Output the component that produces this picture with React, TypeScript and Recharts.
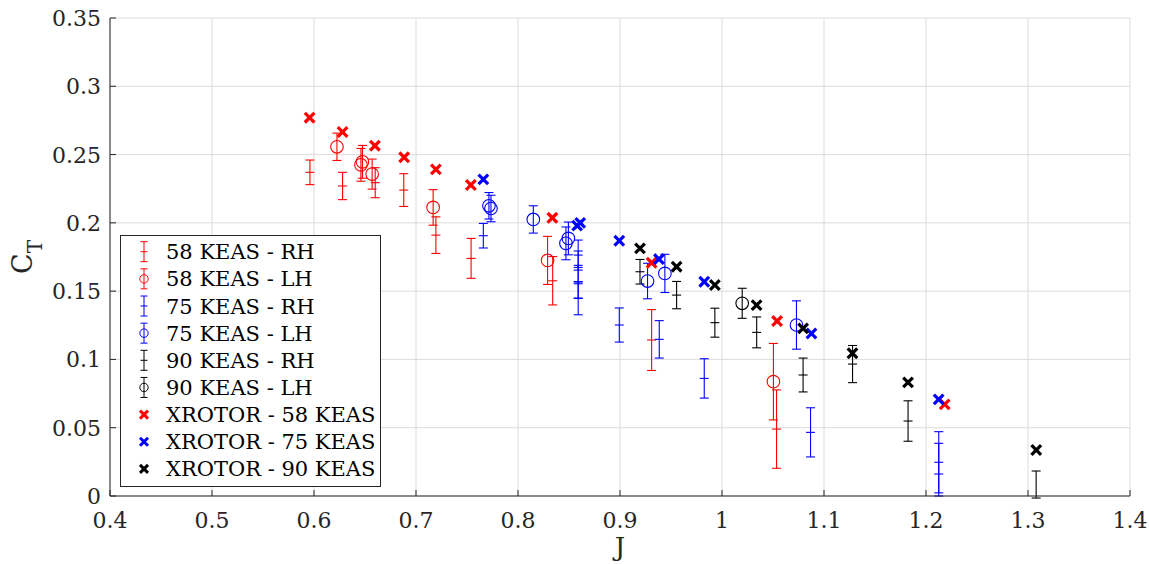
import React from 'react';
import { ScatterChart, Scatter, XAxis, YAxis, CartesianGrid, ErrorBar } from 'recharts';

const FONT = 'DejaVu Serif, Liberation Serif, serif';
const AXIS_COLOR = '#262626';

const xTicks = [0.4, 0.5, 0.6, 0.7, 0.8, 0.9, 1.0, 1.1, 1.2, 1.3, 1.4];
const xTickLabels = ['0.4', '0.5', '0.6', '0.7', '0.8', '0.9', '1', '1.1', '1.2', '1.3', '1.4'];
const yTicks = [0, 0.05, 0.1, 0.15, 0.2, 0.25, 0.3, 0.35];
const yTickLabels = ['0', '0.05', '0.1', '0.15', '0.2', '0.25', '0.3', '0.35'];

// 58 KEAS - RH
const j58RH = [0.596, 0.628, 0.66, 0.688, 0.7195, 0.754, 0.834, 0.931, 1.0535];
const ct58RH = [0.237, 0.227, 0.2294, 0.224, 0.191, 0.174, 0.1576, 0.1142, 0.049];
const err58RH = [0.009, 0.01, 0.011, 0.012, 0.0134, 0.0146, 0.0177, 0.0223, 0.0287];
// 58 KEAS - LH
const j58LH = [0.6225, 0.6475, 0.646, 0.657, 0.7168, 0.829, 1.0504];
const ct58LH = [0.2557, 0.2447, 0.2425, 0.2357, 0.2113, 0.1725, 0.0837];
const err58LH = [0.01, 0.012, 0.012, 0.011, 0.013, 0.0176, 0.028];
// 75 KEAS - RH
const j75RH = [0.766, 0.859, 0.859, 0.859, 0.859, 0.8993, 0.9385, 0.9826, 1.0868, 1.2125, 1.2125];
const ct75RH = [0.1906, 0.1764, 0.1674, 0.1569, 0.1447, 0.1252, 0.1147, 0.0861, 0.0466, 0.0247, 0.0161];
const err75RH = [0.009, 0.011, 0.012, 0.012, 0.012, 0.0125, 0.0137, 0.0144, 0.018, 0.0224, 0.0225];
// 75 KEAS - LH
const j75LH = [0.7715, 0.7735, 0.815, 0.847, 0.8494, 0.927, 0.944, 1.073];
const ct75LH = [0.2125, 0.2105, 0.2025, 0.185, 0.1886, 0.1574, 0.163, 0.1252];
const err75LH = [0.0097, 0.0097, 0.01, 0.012, 0.012, 0.013, 0.014, 0.0177];
// 90 KEAS - RH
const j90RH = [0.9196, 0.9555, 0.993, 1.034, 1.0795, 1.128, 1.1824, 1.308];
const ct90RH = [0.1642, 0.1471, 0.1269, 0.1198, 0.0886, 0.0966, 0.0549, -0.0015];
const err90RH = [0.009, 0.01, 0.0106, 0.0113, 0.0124, 0.0136, 0.0148, 0.0198];
// 90 KEAS - LH
const j90LH = [1.0198];
const ct90LH = [0.1411];
const err90LH = [0.011];
// XROTOR
const jX58 = [0.5957, 0.628, 0.6597, 0.6884, 0.7195, 0.7538, 0.8337, 0.931, 1.054, 1.2183];
const ctX58 = [0.277, 0.2665, 0.2565, 0.248, 0.2392, 0.2277, 0.2037, 0.1708, 0.1281, 0.0671];
const jX75 = [0.766, 0.858, 0.861, 0.8993, 0.9382, 0.9826, 1.0877, 1.2124];
const ctX75 = [0.2318, 0.198, 0.2, 0.1869, 0.1735, 0.1569, 0.119, 0.0708];
const jX90 = [0.9196, 0.9555, 0.993, 1.0339, 1.0795, 1.1279, 1.1824, 1.3081];
const ctX90 = [0.1813, 0.1679, 0.1545, 0.1398, 0.1227, 0.1045, 0.0832, 0.0337];

const RED = '#FF0000';
const BLUE = '#0000FF';
const BLACK = '#000000';

const withErr = (j: number[], ct: number[], err: number[]) =>
  j.map((x, i) => ({ x, y: ct[i], e: [Math.min(err[i], Math.max(ct[i], 0)), err[i]] }));
const plain = (j: number[], ct: number[]) => j.map((x, i) => ({ x, y: ct[i] }));

const PlusShape = (color: string) => (p: any) => (
  <g>
    <line x1={p.cx - 4.5} x2={p.cx + 4.5} y1={p.cy} y2={p.cy} stroke={color} strokeWidth={1.1} />
  </g>
);
const CircleShape = (color: string) => (p: any) => (
  <circle cx={p.cx} cy={p.cy} r={6.3} fill="none" stroke={color} strokeWidth={1.1} />
);
const XShape = (color: string) => (p: any) => (
  <g stroke={color} strokeWidth={3.2}>
    <line x1={p.cx - 4.8} y1={p.cy - 4.8} x2={p.cx + 4.8} y2={p.cy + 4.8} />
    <line x1={p.cx - 4.8} y1={p.cy + 4.8} x2={p.cx + 4.8} y2={p.cy - 4.8} />
  </g>
);

const findIdx = (arr: number[], v: number) => arr.findIndex((t) => Math.abs(t - v) < 1e-9);

const XTick = (props: any) => {
  const { x, y, payload } = props;
  const i = findIdx(xTicks, payload.value);
  return (
    <g>
      <line x1={x} x2={x} y1={y} y2={y - 6} stroke={AXIS_COLOR} strokeWidth={1} />
      <text x={x} y={y + 32} textAnchor="middle" fontSize={22} fill={AXIS_COLOR} fontFamily={FONT}>
        {i >= 0 ? xTickLabels[i] : ''}
      </text>
    </g>
  );
};

const YTick = (props: any) => {
  const { x, y, payload } = props;
  const i = findIdx(yTicks, payload.value);
  return (
    <g>
      <line x1={x} x2={x + 6} y1={y} y2={y} stroke={AXIS_COLOR} strokeWidth={1} />
      <text x={x - 9} y={y + 8} textAnchor="end" fontSize={22} fill={AXIS_COLOR} fontFamily={FONT}>
        {i >= 0 ? yTickLabels[i] : ''}
      </text>
    </g>
  );
};

const XLabel = (props: any) => {
  const vb = props.viewBox || { x: 110, y: 496, width: 1020, height: 68 };
  return (
    <text x={vb.x + vb.width / 2} y={vb.y + 60} textAnchor="middle" fontSize={26} fill={AXIS_COLOR} fontFamily={FONT}>
      J
    </text>
  );
};

const YLabel = (props: any) => {
  const vb = props.viewBox || { x: 0, y: 18, width: 110, height: 478 };
  const cx = vb.x + 32;
  const cy = vb.y + vb.height / 2;
  return (
    <text x={cx} y={cy} transform={`rotate(-90, ${cx}, ${cy})`} textAnchor="middle" fill={AXIS_COLOR} fontFamily={FONT}>
      <tspan fontSize={27}>C</tspan>
      <tspan fontSize={20} dy={10}>T</tspan>
    </text>
  );
};

type LegendItem = { label: string; color: string; kind: 'rh' | 'lh' | 'x' };
const legendItems: LegendItem[] = [
  { label: '58 KEAS - RH', color: RED, kind: 'rh' },
  { label: '58 KEAS - LH', color: RED, kind: 'lh' },
  { label: '75 KEAS - RH', color: BLUE, kind: 'rh' },
  { label: '75 KEAS - LH', color: BLUE, kind: 'lh' },
  { label: '90 KEAS - RH', color: BLACK, kind: 'rh' },
  { label: '90 KEAS - LH', color: BLACK, kind: 'lh' },
  { label: 'XROTOR - 58 KEAS', color: RED, kind: 'x' },
  { label: 'XROTOR - 75 KEAS', color: BLUE, kind: 'x' },
  { label: 'XROTOR - 90 KEAS', color: BLACK, kind: 'x' },
];

const LegendIcon = ({ item, cx, cy }: { item: LegendItem; cx: number; cy: number }) => {
  if (item.kind === 'x') {
    return (
      <g stroke={item.color} strokeWidth={3}>
        <line x1={cx - 4} y1={cy - 4} x2={cx + 4} y2={cy + 4} />
        <line x1={cx - 4} y1={cy + 4} x2={cx + 4} y2={cy - 4} />
      </g>
    );
  }
  return (
    <g stroke={item.color} strokeWidth={1} fill="none">
      <line x1={cx} x2={cx} y1={cy - 10} y2={cy + 10} />
      <line x1={cx - 3.5} x2={cx + 3.5} y1={cy - 10} y2={cy - 10} />
      <line x1={cx - 3.5} x2={cx + 3.5} y1={cy + 10} y2={cy + 10} />
      {item.kind === 'rh' ? (
        <line x1={cx - 3.5} x2={cx + 3.5} y1={cy} y2={cy} />
      ) : (
        <circle cx={cx} cy={cy} r={4.2} />
      )}
    </g>
  );
};

const LegendBox = () => (
  <svg width={262} height={253} style={{ position: 'absolute', left: 120, top: 235 }}>
    <rect x={0.5} y={0.5} width={260} height={251} fill="#fff" stroke={AXIS_COLOR} strokeWidth={1} />
    {legendItems.map((it, i) => {
      const cy = 16.7 + i * 27.15;
      return (
        <g key={it.label}>
          <LegendIcon item={it} cx={24} cy={cy} />
          <text x={46} y={cy + 7.5} fontSize={21} fill={BLACK} fontFamily={FONT}>
            {it.label}
          </text>
        </g>
      );
    })}
  </svg>
);

export default function App() {
  return (
    <div style={{ position: 'absolute', left: 0, top: 0, width: 1149, height: 564, background: '#fff' }}>
      <ScatterChart width={1149} height={564} margin={{ top: 18, right: 19, bottom: 0, left: 0 }}>
        <CartesianGrid stroke="#dcdcdc" strokeWidth={1} horizontalValues={yTicks} verticalValues={xTicks} />
        <XAxis
          type="number"
          dataKey="x"
          domain={[0.4, 1.4]}
          ticks={xTicks}
          allowDataOverflow
          height={68}
          tickSize={0}
          tickMargin={0}
          tickLine={false}
          axisLine={{ stroke: AXIS_COLOR, strokeWidth: 1 }}
          tick={<XTick />}
          interval={0}
          label={{ content: XLabel }}
        />
        <YAxis
          type="number"
          dataKey="y"
          domain={[0, 0.35]}
          ticks={yTicks}
          allowDataOverflow
          width={110}
          tickSize={0}
          tickMargin={0}
          tickLine={false}
          axisLine={{ stroke: AXIS_COLOR, strokeWidth: 1 }}
          tick={<YTick />}
          interval={0}
          label={{ content: YLabel }}
        />
        <Scatter name="58 KEAS - RH" data={withErr(j58RH, ct58RH, err58RH)} shape={PlusShape(RED)} isAnimationActive={false}>
          <ErrorBar dataKey="e" direction="y" width={4.5} stroke={RED} strokeWidth={1.1} />
        </Scatter>
        <Scatter name="58 KEAS - LH" data={withErr(j58LH, ct58LH, err58LH)} shape={CircleShape(RED)} isAnimationActive={false}>
          <ErrorBar dataKey="e" direction="y" width={4.5} stroke={RED} strokeWidth={1.1} />
        </Scatter>
        <Scatter name="75 KEAS - RH" data={withErr(j75RH, ct75RH, err75RH)} shape={PlusShape(BLUE)} isAnimationActive={false}>
          <ErrorBar dataKey="e" direction="y" width={4.5} stroke={BLUE} strokeWidth={1.1} />
        </Scatter>
        <Scatter name="75 KEAS - LH" data={withErr(j75LH, ct75LH, err75LH)} shape={CircleShape(BLUE)} isAnimationActive={false}>
          <ErrorBar dataKey="e" direction="y" width={4.5} stroke={BLUE} strokeWidth={1.1} />
        </Scatter>
        <Scatter name="90 KEAS - RH" data={withErr(j90RH, ct90RH, err90RH)} shape={PlusShape(BLACK)} isAnimationActive={false}>
          <ErrorBar dataKey="e" direction="y" width={4.5} stroke={BLACK} strokeWidth={1.1} />
        </Scatter>
        <Scatter name="90 KEAS - LH" data={withErr(j90LH, ct90LH, err90LH)} shape={CircleShape(BLACK)} isAnimationActive={false}>
          <ErrorBar dataKey="e" direction="y" width={4.5} stroke={BLACK} strokeWidth={1.1} />
        </Scatter>
        <Scatter name="XROTOR - 58 KEAS" data={plain(jX58, ctX58)} shape={XShape(RED)} isAnimationActive={false} />
        <Scatter name="XROTOR - 75 KEAS" data={plain(jX75, ctX75)} shape={XShape(BLUE)} isAnimationActive={false} />
        <Scatter name="XROTOR - 90 KEAS" data={plain(jX90, ctX90)} shape={XShape(BLACK)} isAnimationActive={false} />
      </ScatterChart>
      <LegendBox />
    </div>
  );
}
